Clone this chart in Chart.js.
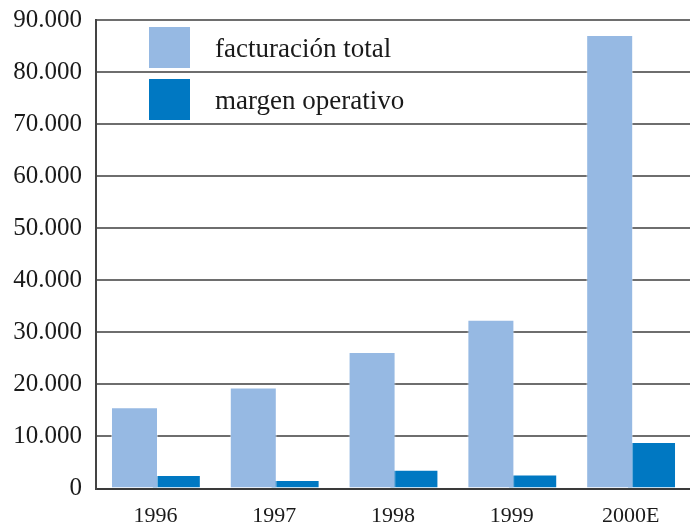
<!DOCTYPE html>
<html>
<head>
<meta charset="utf-8">
<script src="https://cdn.jsdelivr.net/npm/chart.js@4/dist/chart.umd.min.js"></script>
<style>
html,body{margin:0;padding:0;background:#fff;}
#wrap{width:690px;height:528px;position:relative;}
</style>
</head>
<body>
<div id="wrap"><canvas id="c" width="690" height="528"></canvas></div>
<script>
const categories = ['1996', '1997', '1998', '1999', '2000E'];
const facturacionTotal = [15600, 19400, 26200, 32400, 87100];
const margenOperativo = [2900, 1900, 3900, 3000, 9200];
const yTickValues = [0, 10000, 20000, 30000, 40000, 50000, 60000, 70000, 80000, 90000];
const seriesLabels = ['facturación total', 'margen operativo'];
const seriesColors = ['#96b9e3', '#0078c2'];

const FONT = '"Liberation Serif", "DejaVu Serif", serif';
const TEXT = '#1a1a1a';

function fmt(v) {
  return String(v).replace(/\B(?=(\d{3})+(?!\d))/g, '.');
}

const legendPlugin = {
  id: 'insideLegend',
  afterDraw(chart) {
    const ctx = chart.ctx;
    ctx.save();
    ctx.font = '27px ' + FONT;
    ctx.textBaseline = 'alphabetic';
    chart.data.datasets.forEach((ds, i) => {
      const y0 = 27 + i * 52;
      ctx.fillStyle = ds.backgroundColor;
      ctx.fillRect(149, y0, 41, 41);
      ctx.fillStyle = TEXT;
      ctx.fillText(ds.label, 215, y0 + 30);
    });
    ctx.restore();
  }
};

new Chart(document.getElementById('c'), {
  type: 'bar',
  data: {
    labels: categories,
    datasets: [
      {
        label: seriesLabels[0],
        data: facturacionTotal,
        backgroundColor: seriesColors[0],
        borderColor: 'rgba(255,255,255,0.45)',
        borderWidth: 1,
        borderSkipped: 'bottom',
        categoryPercentage: 0.704,
        barPercentage: 1.124
      },
      {
        label: seriesLabels[1],
        data: margenOperativo,
        backgroundColor: seriesColors[1],
        borderColor: '#ffffff',
        borderWidth: 2.5,
        borderSkipped: 'bottom',
        categoryPercentage: 0.704,
        barPercentage: 1.244
      }
    ]
  },
  options: {
    responsive: false,
    animation: false,
    layout: { padding: { top: 20, right: 0, left: 0, bottom: 0 } },
    plugins: {
      legend: { display: false },
      tooltip: { enabled: false }
    },
    scales: {
      x: {
        z: 1,
        grid: { display: false, drawTicks: false },
        border: { display: true, color: '#3a3a3a', width: 2 },
        ticks: {
          color: TEXT,
          font: { family: FONT, size: 22 },
          padding: 15,
          maxRotation: 0
        },
        afterFit(scale) {
          scale.height = 39.5;
          scale.paddingLeft = 0;
          scale.paddingRight = 0;
        }
      },
      y: {
        z: 1,
        min: 0,
        max: 90000,
        afterBuildTicks(scale) {
          scale.ticks = yTickValues.map(v => ({ value: v }));
        },
        grid: { color: '#6e6e6e', lineWidth: 2, drawTicks: false },
        border: { display: true, color: '#444444', width: 2 },
        ticks: {
          color: TEXT,
          font: { family: FONT, size: 25 },
          padding: 14,
          callback: (v) => fmt(v)
        },
        afterFit(scale) {
          scale.width = 96;
          scale.paddingTop = 0;
          scale.paddingBottom = 0;
        }
      }
    }
  },
  plugins: [legendPlugin]
});
</script>
</body>
</html>
